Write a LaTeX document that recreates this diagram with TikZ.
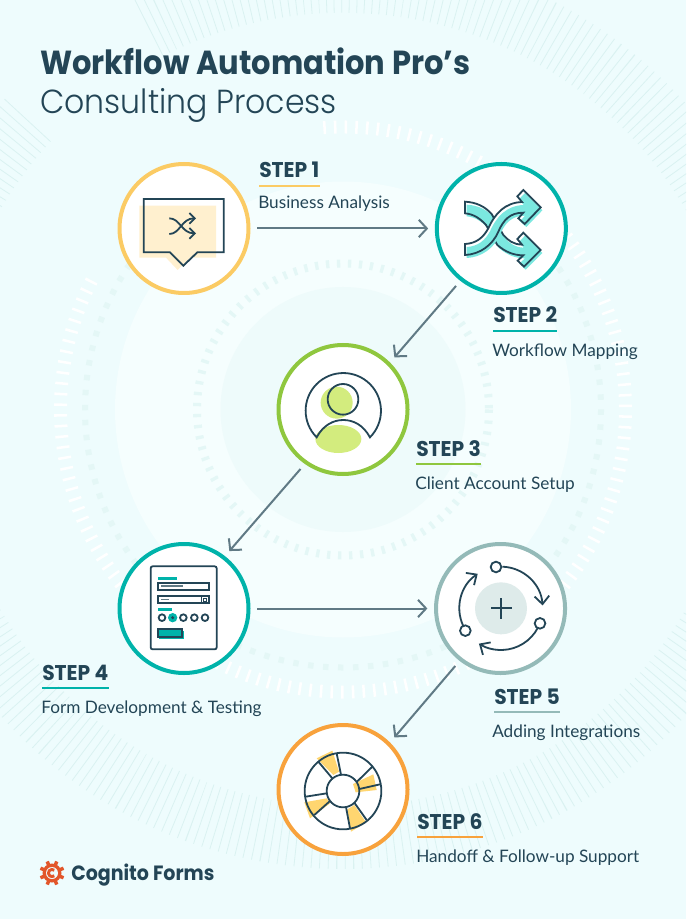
\documentclass[tikz,border=0pt]{standalone}
\usepackage{fontspec}
\setmainfont{Lato}
\newfontfamily\headfont{Poppins}[UprightFont=* Light, BoldFont=* Bold]
\usetikzlibrary{arrows.meta, positioning}
\definecolor{bgfill}{HTML}{EEFCFD}
\definecolor{middisc}{HTML}{F5FEFE}
\definecolor{innerdisc}{HTML}{EEFBFB}
\definecolor{ringdash}{HTML}{E4F7F6}
\definecolor{ticktint}{HTML}{DAF2F1}
\definecolor{darktext}{HTML}{234556}
\definecolor{arrowgrey}{HTML}{607A85}
\definecolor{stepyellow}{HTML}{FBCB64}
\definecolor{stepteal}{HTML}{00B3AA}
\definecolor{stepgreen}{HTML}{8FC73E}
\definecolor{stepsage}{HTML}{94BAB8}
\definecolor{steporange}{HTML}{F8A23C}
\definecolor{creamfill}{HTML}{FFF0CF}
\definecolor{aquafill}{HTML}{7BE8E0}
\definecolor{limefill}{HTML}{D3EC7E}
\definecolor{palegrey}{HTML}{DEEBEA}
\definecolor{sunfill}{HTML}{FFD670}
\definecolor{logoorange}{HTML}{E2562A}
\def\bandlow{(135,155) .. controls (170,157) and (195,170) .. (215,192) -- (250,255) .. controls (265,272) and (280,283) .. (306,284) -- (292,267) -- (310,248) -- (362,300) -- (312,350) -- (293,332) -- (310,316) .. controls (280,316) and (255,305) .. (232,285) -- (198,225) .. controls (180,205) and (160,192) .. (135,190) -- cycle}
\def\bandup{(135,282) .. controls (170,280) and (190,262) .. (205,235) .. controls (225,190) and (255,158) .. (306,156) -- (292,139) -- (310,120) -- (362,172) -- (314,222) -- (295,205) -- (310,188) .. controls (270,188) and (250,210) .. (235,245) .. controls (218,285) and (180,313) .. (135,315) -- cycle}
\tikzset{
    stepcircle/.style={circle, fill=white, line width=3pt, minimum size=96.75pt, inner sep=0pt},
    flow/.style={draw=arrowgrey, line width=1.5pt, -{Straight Barb[length=6pt, width=13pt]}, shorten >=5pt, shorten <=5pt},
    steptitle/.style={anchor=base west, inner sep=0pt, text depth=5.5pt, text=darktext, font=\headfont\bfseries\fontsize{16}{18}\selectfont\addfontfeature{FakeStretch=0.95}},
    stepdesc/.style={anchor=base west, inner sep=0pt, text=darktext, font=\fontsize{12.9}{15}\selectfont},
    stepline/.style={line width=1.5pt},
    icon/.style={draw=darktext, line width=1.35pt},
    zoomed/.style={x=.25pt, y=-.25pt}
}
\begin{document}
\begin{tikzpicture}[x=.75pt, y=-.75pt, on grid]
      \useasboundingbox (0,0) rectangle (686,919);
      \fill[bgfill] (0,0) rectangle (686,919);
      \coordinate (centre) at (343,409.5);
      \begin{scope}
      \clip (0,0) rectangle (686,919);
      \draw[ticktint, line width=47pt, dash pattern=on .6pt off 5.4pt] (centre) ++(243:428) arc[start angle=243, end angle=583, radius=428];
      \fill[middisc] (centre) circle[radius=228];
      \fill[innerdisc] (centre) circle[radius=122.5];
      \draw[ringdash, line width=6pt, dash pattern=on 2.5pt off 5.75pt] (centre) circle[radius=146];
      \draw[ringdash, line width=4.5pt, dash pattern=on 4.1pt off 7.15pt] (centre) ++(-40:258) arc[start angle=-40, end angle=220, radius=258];
      \draw[white, line width=9.75pt, dash pattern=on 1.9pt off 6.1pt] (centre) ++(266:282.5) arc[start angle=266, end angle=568, radius=282.5];
      \end{scope}

      \node[anchor=base west, inner sep=0pt, text=darktext, font=\headfont\bfseries\fontsize{25}{30}\selectfont\addfontfeature{FakeStretch=0.916}] (title) at (40,75) {Workflow Automation Pro’s};
      \node[anchor=base west, inner sep=0pt, text=darktext, font=\headfont\fontsize{25}{30}\selectfont\addfontfeature{FakeStretch=0.946}] (subtitle) at (40,114) {Consulting Process};

      \node[stepcircle, draw=stepyellow] (step1) at (184,228.5) {};
      \node[stepcircle, draw=stepteal] (step2) [right = 238pt of step1] {};
      \node[stepcircle, draw=stepgreen] (step3) [below right = 135.75pt and 119.25pt of step1] {};
      \node[stepcircle, draw=stepteal] (step4) [below = 285pt of step1] {};
      \node[stepcircle, draw=stepsage] (step5) [right = 237.4pt of step4] {};
      \node[stepcircle, draw=steporange] (step6) [below right = 135.75pt and 119.25pt of step4] {};

      \draw[flow] (step1) -- (step2);
      \draw[flow] (step2.232) -- (step3.45);
      \draw[flow] (step3.235) -- (step4.52);
      \draw[flow] (step4) -- (step5);
      \draw[flow] (step5.232) -- (step6.45);

      \node[steptitle] (title1) at (259,178) {STEP 1};
      \node[steptitle] (title2) at (493,323) {STEP 2};
      \node[steptitle] (title3) at (416,456) {STEP 3};
      \node[steptitle] (title4) at (42,680) {STEP 4};
      \node[steptitle] (title5) at (494,704) {STEP 5};
      \node[steptitle] (title6) at (417,829) {STEP 6};
      \draw[stepline, stepyellow] (title1.south west) -- (title1.south east);
      \draw[stepline, stepteal] (title2.south west) -- (title2.south east);
      \draw[stepline, stepgreen] (title3.south west) -- (title3.south east);
      \draw[stepline, stepteal] (title4.south west) -- (title4.south east);
      \draw[stepline, stepsage] (title5.south west) -- (title5.south east);
      \draw[stepline, steporange] (title6.south west) -- (title6.south east);
      \node[stepdesc] (desc1) at (258,209) {Business Analysis};
      \node[stepdesc] (desc2) at (492,356) {Workflow Mapping};
      \node[stepdesc] (desc3) at (415,489) {Client Account Setup};
      \node[stepdesc] (desc4) at (41,713) {Form Development \& Testing};
      \node[stepdesc] (desc5) at (492,737) {Adding Integrations};
      \node[stepdesc] (desc6) at (416,862) {Handoff \& Follow-up Support};

      \begin{scope}[shift={(100,150)}, zoomed]
        \fill[creamfill] (118,167) -- (348,167) -- (348,323) -- (270,323) -- (233,360) -- (198,323) -- (118,323) -- cycle;
        \draw[icon] (131,147) -- (371,147) -- (371,307) -- (292,307) -- (250,347) -- (210,307) -- (131,307) -- cycle;
        \draw[icon, -{Straight Barb[length=4pt, width=8pt]}] (208,205) .. controls (240,205) and (245,250) .. (288,250);
        \draw[icon, -{Straight Barb[length=4pt, width=8pt]}] (208,252) .. controls (240,252) and (245,205) .. (288,205);
      \end{scope}

      \begin{scope}[shift={(420,150)}, zoomed]
        \fill[aquafill, shift={(5,9)}] \bandlow;
        \draw[icon] \bandlow;
        \fill[white] \bandup;
        \fill[aquafill, shift={(5,9)}] \bandup;
        \draw[icon] \bandup;
      \end{scope}

      \begin{scope}[shift={(265,335)}, zoomed]
        \fill[limefill] (215,203) circle[radius=48];
        \fill[limefill] (220,312) ellipse[x radius=69, y radius=42];
        \draw[icon] (234,193) circle[radius=46];
        \draw[icon, line join=miter] (155,307) arc[start angle=135, end angle=405, radius=113] .. controls (295,270) and (265,255) .. (235,255) .. controls (205,255) and (175,270) .. (155,307) -- cycle;
      \end{scope}

      \begin{scope}[shift={(105,535)}, zoomed]
        \draw[icon, rounded corners=1.5pt] (137,94) rectangle (335,343);
        \fill[stepteal] (158,125) rectangle (216,134);
        \draw[icon] (160,143) rectangle (311,164);
        \fill[arrowgrey] (167,151) rectangle (235,157);
        \draw[icon] (160,183) rectangle (311,205);
        \fill[arrowgrey] (167,191) rectangle (192,196);
        \draw[darktext, line width=.8pt] (290,183) -- (290,205);
        \draw[darktext, line width=.5pt] (296,190) rectangle (304,198);
        \fill[stepteal] (158,219) rectangle (200,228);
        \fill[stepteal] (203,248) circle[radius=14];
        \fill[darktext] (203,248) circle[radius=5];
        \foreach \x in {171,235,268,300}
          \draw[icon] (\x,248) circle[radius=10];
        \fill[stepteal] (163,287) rectangle (237,312);
        \draw[icon, fill=stepteal] (158,281) rectangle (231,306);
      \end{scope}

      \begin{scope}[shift={(425,535)}, zoomed]
        \fill[palegrey] (228,220) circle[radius=78];
        \draw[icon] (198,220) -- (260,220);
        \draw[icon] (228,190) -- (228,252);
        \draw[icon, -{Straight Barb[length=6pt, width=11pt]}] (228,220) ++(-88:125) arc[start angle=-88, end angle=-4, radius=125];
        \draw[icon, -{Straight Barb[length=6pt, width=11pt]}] (228,220) ++(28:125) arc[start angle=28, end angle=122, radius=125];
        \draw[icon, -{Straight Barb[length=6pt, width=11pt]}] (228,220) ++(155:125) arc[start angle=155, end angle=236, radius=125];
        \draw[icon, fill=white] (213,96) circle[radius=16];
        \draw[icon, fill=white] (345,265) circle[radius=16];
        \draw[icon, fill=white] (121,287) circle[radius=16];
      \end{scope}

      \begin{scope}[shift={(265,715)}, zoomed]
        \fill[sunfill] (155,130) -- (202,107) -- (222,170) -- (205,180) -- cycle;
        \fill[sunfill] (264,207) -- (325,178) -- (335,225) -- (272,232) -- cycle;
        \fill[sunfill] (247,283) -- (268,270) -- (303,322) -- (258,350) -- cycle;
        \fill[sunfill] (118,262) -- (185,250) -- (195,265) -- (135,310) -- cycle;
        \draw[icon] (234,228) circle[radius=115];
        \draw[icon] (234,228) circle[radius=49];
        \draw[icon] (202,190) -- (160,140);
        \draw[icon] (228,179) -- (215,115);
        \draw[icon] (275,201) -- (322,155);
        \draw[icon] (283,222) -- (345,208);
        \draw[icon] (268,263) -- (305,315);
        \draw[icon] (243,276) -- (255,340);
        \draw[icon] (185,235) -- (122,245);
        \draw[icon] (195,258) -- (148,300);
      \end{scope}

      \coordinate (gear) at (52,873);
      \foreach \a in {0,45,...,315}
        \draw[logoorange, line width=2.6pt] (gear) ++(\a+22.5:8) -- ++(\a+22.5:4.5);
      \fill[logoorange] (gear) circle[radius=9.5];
      \fill[bgfill] (gear) circle[radius=6];
      \draw[logoorange, line width=2.2pt] (gear) ++(-50:3.6) arc[start angle=-50, end angle=-310, radius=3.6];
      \node[anchor=base west, inner sep=0pt, text=darktext, font=\headfont\bfseries\fontsize{15.5}{18}\selectfont\addfontfeature{FakeStretch=0.92}] (logo) at (71,880) {Cognito Forms};
\end{tikzpicture}
\end{document}
